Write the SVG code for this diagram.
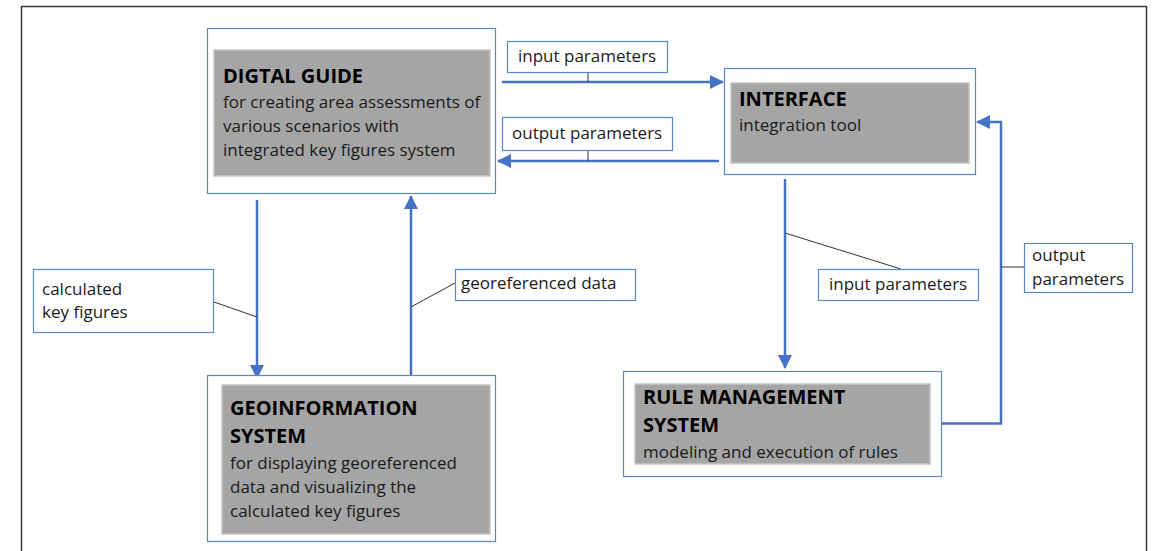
<svg xmlns="http://www.w3.org/2000/svg" width="1154" height="551" viewBox="0 0 1154 551">
  <style>
    .frame { fill: none; stroke: #3a3a3a; stroke-width: 1.5; }
    .outer { fill: #ffffff; stroke: #5b85d0; stroke-width: 1.2; }
    .inner { fill: #a5a5a5; stroke: #c4c4c4; stroke-width: 1.5; }
    .label { fill: #ffffff; stroke: #5b85d0; stroke-width: 1.2; }
    .flow { fill: none; stroke: #4472c4; stroke-width: 2.5; }
    .lead { fill: none; stroke: #333333; stroke-width: 1; }
    text { font-family: "Open Sans", "Liberation Sans", sans-serif; fill: #1a1a1a; font-size: 17px; }
    .title { font-weight: bold; font-size: 20px; fill: #000000; }
  </style>
  <defs>
    <marker id="arrow" viewBox="0 0 14 14" refX="13" refY="7" markerWidth="14" markerHeight="14" markerUnits="userSpaceOnUse" orient="auto">
      <path d="M0,0 L14,7 L0,14 Z" fill="#4472c4"/>
    </marker>
  </defs>

  <rect x="0" y="0" width="1154" height="551" fill="#ffffff"/>
  <!-- page frame, open at the bottom -->
  <path class="frame" d="M21.5,560 V6.5 H1146.5 V560"/>

  <!-- connectors -->
  <g id="connectors">
    <line class="flow" x1="502" y1="82" x2="723" y2="82" marker-end="url(#arrow)"/>
    <line class="flow" x1="719" y1="161" x2="498" y2="161" marker-end="url(#arrow)"/>
    <line class="flow" x1="257" y1="200" x2="257" y2="378" marker-end="url(#arrow)"/>
    <line class="flow" x1="411" y1="379" x2="411" y2="196" marker-end="url(#arrow)"/>
    <line class="flow" x1="785" y1="179" x2="785" y2="368" marker-end="url(#arrow)"/>
    <polyline class="flow" points="942,423.5 1001,423.5 1001,122 977,122" marker-end="url(#arrow)"/>
    <!-- callout leaders -->
    <line class="lead" x1="588" y1="72" x2="588" y2="82"/>
    <line class="lead" x1="588" y1="150" x2="588" y2="161"/>
    <line class="lead" x1="214" y1="302" x2="257" y2="317"/>
    <line class="lead" x1="455" y1="283" x2="411" y2="307"/>
    <line class="lead" x1="785" y1="233" x2="901" y2="269"/>
    <line class="lead" x1="1001" y1="267" x2="1024" y2="267"/>
  </g>

  <g id="digital-guide">
    <rect class="outer" x="207.5" y="28.5" width="288" height="165"/>
    <rect class="inner" x="214" y="50" width="276" height="126"/>
    <text class="title" x="223" y="83">DIGTAL GUIDE</text>
    <text x="223" y="108">for creating area assessments of</text>
    <text x="223" y="132">various scenarios with</text>
    <text x="223" y="156">integrated key figures system</text>
  </g>

  <g id="interface">
    <rect class="outer" x="724.5" y="68.5" width="251" height="106"/>
    <rect class="inner" x="731" y="83" width="238" height="80"/>
    <text class="title" x="739" y="106">INTERFACE</text>
    <text x="739" y="131">integration tool</text>
  </g>

  <g id="geoinformation-system">
    <rect class="outer" x="207.5" y="375.5" width="288" height="166"/>
    <rect class="inner" x="222" y="385" width="268" height="149"/>
    <text class="title" x="230" y="415">GEOINFORMATION</text>
    <text class="title" x="230" y="443">SYSTEM</text>
    <text x="230" y="469">for displaying georeferenced</text>
    <text x="230" y="493">data and visualizing the</text>
    <text x="230" y="517">calculated key figures</text>
  </g>

  <g id="rule-management-system">
    <rect class="outer" x="623.5" y="371.5" width="318" height="105"/>
    <rect class="inner" x="635" y="384" width="295" height="80"/>
    <text class="title" x="643" y="404">RULE MANAGEMENT</text>
    <text class="title" x="643" y="432">SYSTEM</text>
    <text x="643" y="458">modeling and execution of rules</text>
  </g>

  <g id="label-input-top">
    <rect class="label" x="507.5" y="41.5" width="160" height="31"/>
    <text x="518" y="62">input parameters</text>
  </g>
  <g id="label-output-top">
    <rect class="label" x="502.5" y="117.5" width="170" height="33"/>
    <text x="512" y="139">output parameters</text>
  </g>
  <g id="label-calculated">
    <rect class="label" x="33.5" y="269.5" width="180" height="63"/>
    <text x="42" y="295">calculated</text>
    <text x="42" y="318">key figures</text>
  </g>
  <g id="label-georeferenced">
    <rect class="label" x="455.5" y="269.5" width="180" height="31"/>
    <text x="461" y="289">georeferenced data</text>
  </g>
  <g id="label-input-lower">
    <rect class="label" x="818.5" y="269.5" width="160" height="31"/>
    <text x="829" y="290">input parameters</text>
  </g>
  <g id="label-output-right">
    <rect class="label" x="1024.5" y="243.5" width="108" height="49"/>
    <text x="1032" y="261">output</text>
    <text x="1032" y="285">parameters</text>
  </g>
</svg>
